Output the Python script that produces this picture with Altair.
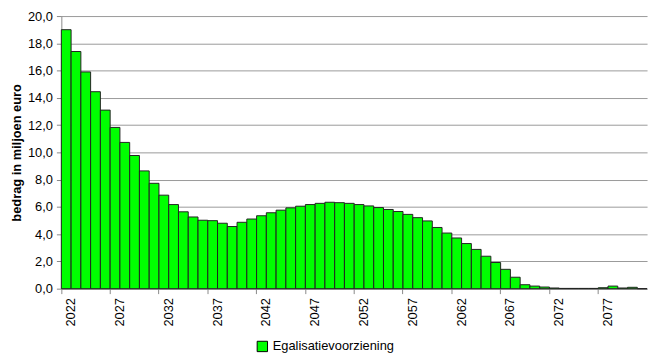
import altair as alt
import pandas as pd

years = list(range(2022, 2082))
values = [
    19.0, 17.4, 15.9, 14.45, 13.1, 11.83, 10.73, 9.77, 8.64, 7.73,
    6.86, 6.17, 5.64, 5.26, 5.02, 4.99, 4.80, 4.56, 4.87, 5.11,
    5.35, 5.57, 5.76, 5.93, 6.05, 6.17, 6.26, 6.34, 6.31, 6.26,
    6.17, 6.07, 5.95, 5.81, 5.66, 5.45, 5.21, 4.97, 4.49, 4.08,
    3.72, 3.31, 2.88, 2.38, 1.92, 1.42, 0.84, 0.29, 0.19, 0.12,
    0.05, 0.02, 0.02, 0.02, 0.02, 0.07, 0.19, 0.05, 0.10, 0.0,
]
series = ["Egalisatievoorziening"] * len(years)
y_ticks = [0, 2, 4, 6, 8, 10, 12, 14, 16, 18, 20]
x_label_years = [2022, 2027, 2032, 2037, 2042, 2047, 2052, 2057, 2062, 2067, 2072, 2077]

df = pd.DataFrame({"jaar": years, "bedrag": values, "reeks": series})

FONT = "Liberation Sans"

chart = alt.Chart(df).mark_bar(stroke="#222222", strokeWidth=1).encode(
    x=alt.X(
        "jaar:O",
        title=None,
        scale=alt.Scale(paddingInner=0, paddingOuter=0),
        axis=alt.Axis(
            values=x_label_years,
            labelAngle=-90,
            bandPosition=0,
            labelOffset=5,
            tickSize=5,
            tickColor="#888888",
            domainColor="#888888",
            labelFont=FONT,
            labelFontSize=13,
            labelColor="#000000",
            labelPadding=4,
            grid=False,
        ),
    ),
    y=alt.Y(
        "bedrag:Q",
        title="bedrag in miljoen euro",
        scale=alt.Scale(domain=[0, 20], nice=False),
        axis=alt.Axis(
            values=y_ticks,
            labelExpr="replace(format(datum.value, '.1f'), '.', ',')",
            tickSize=5,
            tickColor="#888888",
            domainColor="#888888",
            gridColor="#999999",
            gridWidth=1,
            labelFont=FONT,
            labelFontSize=13,
            labelColor="#000000",
            labelPadding=4,
            titleFont=FONT,
            titleFontSize=13,
            titleFontWeight="bold",
            titleColor="#000000",
            titlePadding=4,
        ),
    ),
    color=alt.Color(
        "reeks:N",
        scale=alt.Scale(range=["#00FF00"]),
        legend=alt.Legend(
            title=None,
            orient="none",
            legendX=197,
            legendY=328,
            symbolType="square",
            symbolSize=110,
            symbolStrokeColor="#000000",
            symbolStrokeWidth=1,
            labelFont=FONT,
            labelFontSize=13,
            labelColor="#000000",
        ),
    ),
).properties(
    width=593,
    height=276,
    autosize=alt.AutoSizeParams(type="none"),
    padding={"left": 54, "top": 6, "right": 5, "bottom": 66},
).configure_view(stroke=None).configure_axisX(grid=False)

chart.save("out.html", embed_options={"renderer": "svg", "actions": False})
